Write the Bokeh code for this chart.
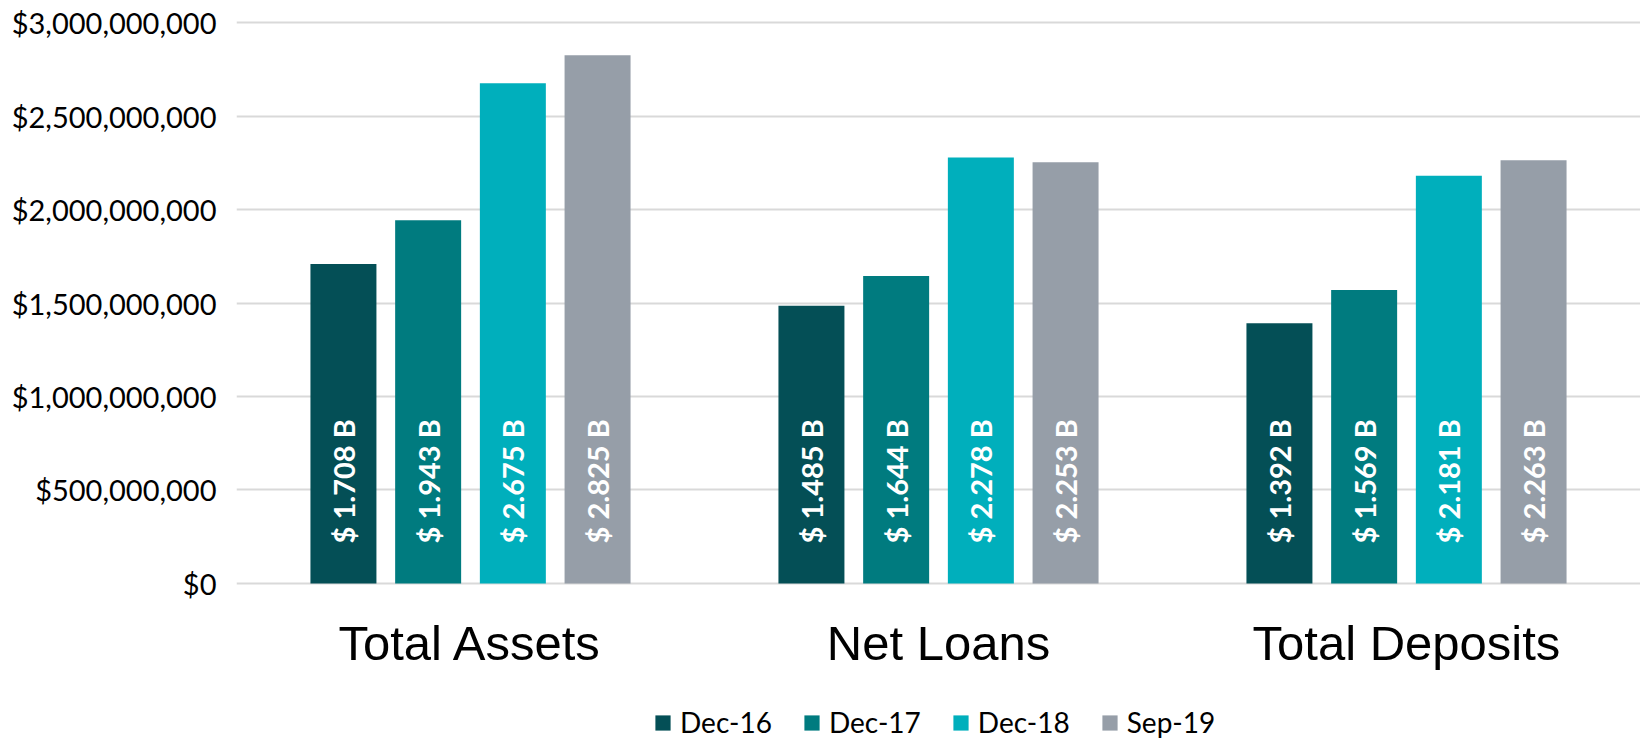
import math
from bokeh.plotting import figure
from bokeh.layouts import column
from bokeh.models import (ColumnDataSource, FactorRange, Range1d, FixedTicker,
                          NumeralTickFormatter, Legend, LegendItem)
from bokeh.transform import dodge
from bokeh.core.properties import value
from bokeh.embed import file_html
from bokeh.resources import INLINE

categories = ["Total Assets", "Net Loans", "Total Deposits"]
series_names = ["Dec-16", "Dec-17", "Dec-18", "Sep-19"]
dec16 = [1.708, 1.485, 1.392]
dec17 = [1.943, 1.644, 1.569]
dec18 = [2.675, 2.278, 2.181]
sep19 = [2.825, 2.253, 2.263]
y_ticks = [0, 500_000_000, 1_000_000_000, 1_500_000_000,
           2_000_000_000, 2_500_000_000, 3_000_000_000]

colors = ["#044F56", "#007B7F", "#00AFBC", "#969EA8"]
offsets = [-0.2715, -0.0905, 0.0905, 0.2715]
bar_w = 0.141
eps = 11_000_000  # ~2 px so the edge gridlines are not clipped

p = figure(x_range=FactorRange(*categories), y_range=Range1d(-eps, 3_000_000_000 + eps),
           width=1640, height=694,
           output_backend="svg", toolbar_location=None,
           min_border_left=236, min_border_right=0, min_border_top=20,
           min_border_bottom=109)
p.outline_line_color = None
p.background_fill_color = "white"
p.border_fill_color = "white"

for name, vals, col, off in zip(series_names, [dec16, dec17, dec18, sep19], colors, offsets):
    src = ColumnDataSource(dict(
        cat=categories,
        val=[v * 1e9 for v in vals],
        zero=[0] * len(vals),
        label=[f"$ {v:.3f} B" for v in vals],
    ))
    p.vbar(x=dodge("cat", off, range=p.x_range), top="val", width=bar_w,
           source=src, fill_color=col, line_color=None)
    p.text(x=dodge("cat", off, range=p.x_range), y="zero", text="label", source=src,
           angle=math.pi / 2, y_offset=-40, text_align="left", text_baseline="middle",
           text_color="white", text_font=value("Lato"), text_font_style="bold",
           text_font_size="29px")

p.xaxis.axis_line_color = None
p.xaxis.major_tick_line_color = None
p.xaxis.major_tick_out = 0
p.xaxis.major_label_text_font = "Liberation Sans"
p.xaxis.major_label_text_font_size = "49px"
p.xaxis.major_label_text_color = "black"
p.xaxis.major_label_standoff = 30

p.yaxis.ticker = FixedTicker(ticks=y_ticks)
p.yaxis.formatter = NumeralTickFormatter(format="$0,0")
p.yaxis.axis_line_color = None
p.yaxis.major_tick_line_color = None
p.yaxis.minor_tick_line_color = None
p.yaxis.major_label_text_font = "Lato"
p.yaxis.major_label_text_font_size = "29px"
p.yaxis.major_label_text_color = "black"
p.yaxis.major_label_standoff = 14

p.xgrid.grid_line_color = None
p.ygrid.grid_line_color = "#D9D9D9"
p.ygrid.grid_line_width = 2

# legend strip below the chart (proxy glyphs of zero size carry the swatch colours)
leg_fig = figure(width=1640, height=45, x_range=Range1d(0, 1), y_range=Range1d(0, 1),
                 x_axis_type=None, y_axis_type=None,
                 output_backend="svg", toolbar_location=None,
                 min_border=0, min_border_left=0, min_border_right=0,
                 min_border_top=0, min_border_bottom=0)
leg_fig.outline_line_color = None
leg_fig.xgrid.grid_line_color = None
leg_fig.ygrid.grid_line_color = None
items = []
for name, col in zip(series_names, colors):
    r = leg_fig.vbar(x=[0.5], top=[0], bottom=[0], width=0, fill_color=col, line_color=None)
    items.append(LegendItem(label=name, renderers=[r]))
legend = Legend(items=items, orientation="horizontal", location=(417, 0),
                glyph_width=19, glyph_height=19, label_standoff=8, spacing=30,
                label_text_font="Lato", label_text_font_size="28px",
                label_text_color="black", padding=0, margin=0,
                border_line_color=None, background_fill_alpha=0)
leg_fig.add_layout(legend, "center")

layout = column(p, leg_fig, spacing=0)
open("out.html", "w").write(file_html(layout, INLINE))
